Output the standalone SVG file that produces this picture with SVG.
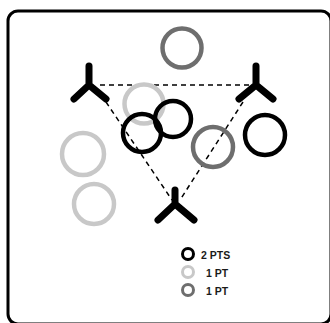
<svg xmlns="http://www.w3.org/2000/svg" width="330" height="323" viewBox="0 0 330 323">
<style>
.player{stroke:#000;stroke-width:7;stroke-linecap:round;stroke-linejoin:round;fill:none}
.dash{stroke:#000;stroke-width:1.5;stroke-dasharray:5,4;fill:none}
.black{fill:none;stroke:#000;stroke-width:4.5}
.light{fill:none;stroke:#c8c8c8;stroke-width:4.5}
.dark{fill:none;stroke:#6e6e6e;stroke-width:4.5}
.lbl{font-family:"Liberation Sans",Arial,sans-serif;font-weight:bold;font-size:10.5px;fill:#1a1a1a}
</style>
<rect x="8" y="11" width="323" height="313" rx="10" fill="#fff" stroke="#000" stroke-width="3"/>
<g id="connectors">
<line class="dash" x1="100" y1="85" x2="250" y2="85"/>
<line class="dash" x1="106" y1="102" x2="172" y2="200"/>
<line class="dash" x1="243" y1="102" x2="180" y2="200"/>
</g>
<g id="player-left"><path class="player" d="M89 66 V85 L74 99 M89 85 L106 99"/></g>
<g id="player-right"><path class="player" d="M256 66 V85 L239 99 M256 85 L273 99"/></g>
<g id="player-bottom"><path class="player" d="M175 190 V204 L158 220 M175 204 L194 220"/></g>
<g id="circle-top"><circle class="dark" cx="182" cy="48" r="19.5"/></g>
<g id="circle-light-1"><circle class="light" cx="144" cy="104" r="19.5"/></g>
<g id="circle-black-1"><circle class="black" cx="173" cy="119" r="18"/></g>
<g id="circle-black-2"><circle class="black" cx="142" cy="133" r="19"/></g>
<g id="circle-dark-2"><circle class="dark" cx="213" cy="147" r="20"/></g>
<g id="circle-black-3"><circle class="black" cx="265" cy="135" r="20"/></g>
<g id="circle-light-2"><circle class="light" cx="83" cy="154" r="21"/></g>
<g id="circle-light-3"><circle class="light" cx="94" cy="204" r="20"/></g>
<g id="legend">
<circle cx="188" cy="254" r="5.5" fill="none" stroke="#000" stroke-width="3"/>
<circle cx="188" cy="272" r="5.5" fill="none" stroke="#c8c8c8" stroke-width="3"/>
<circle cx="188" cy="290" r="5.5" fill="none" stroke="#6e6e6e" stroke-width="3"/>
<text class="lbl" x="201" y="259">2 PTS</text>
<text class="lbl" x="206" y="277">1 PT</text>
<text class="lbl" x="206" y="295">1 PT</text>
</g>
</svg>
